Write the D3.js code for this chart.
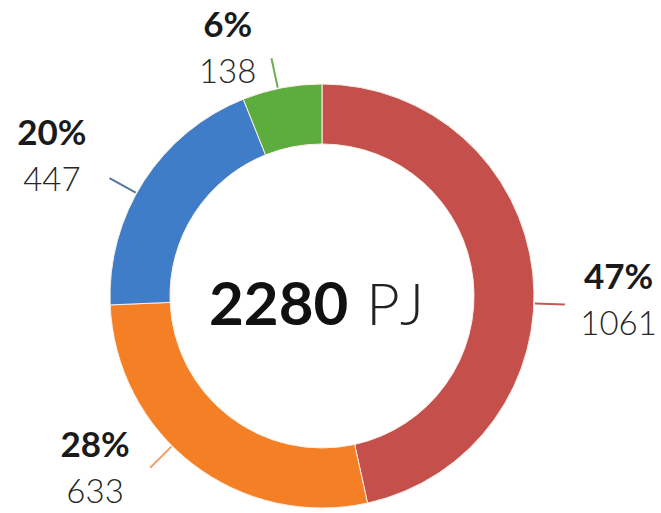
<!DOCTYPE html>
<html>
<head>
<meta charset="utf-8">
<script src="https://cdn.jsdelivr.net/npm/d3@7"></script>
<style>
  body { margin: 0; background: #fff; }
  svg { display: block; font-family: Lato, 'Noto Sans', sans-serif; }
</style>
</head>
<body>
<svg id="chart"></svg>
<script>
var WIDTH = 661;
var HEIGHT = 513;

// slice values (PJ), clockwise from 12 o'clock
var names = ['red', 'orange', 'blue', 'green'];
var values = [1061, 633, 447, 138];
var percents = ['47%', '28%', '20%', '6%'];
var total = 2280;
var unit = 'PJ';

var colors = ['#c44f4b', '#f57f24', '#3f7dc8', '#5cac3e'];
var tickColors = ['#c45a56', '#f0a06a', '#55779e', '#6aae4e'];

// label layout: angle (deg, clockwise from top) for leader tick and for text block
var tickAngle = [92, 225, 299, 348];
var labelAngle = [93.1, 231, 295.4, 338.2];
var labelRadius = [297, 292, 299, 254];

var cx = 322, cy = 296;
var outerR = 212, innerR = 152;

var svg = d3.select('#chart')
  .attr('width', WIDTH)
  .attr('height', HEIGHT);

var g = svg.append('g').attr('transform', 'translate(' + cx + ',' + cy + ')');

var pie = d3.pie().sort(null).value(function(d) { return d; });
var arc = d3.arc().innerRadius(innerR).outerRadius(outerR);

g.selectAll('path.slice')
  .data(pie(values))
  .enter()
  .append('path')
  .attr('class', 'slice')
  .attr('d', arc)
  .attr('fill', function(d, i) { return colors[i]; })
  .attr('stroke', '#fbeee6')
  .attr('stroke-width', 1);

var rad = function(deg) { return deg * Math.PI / 180; };

// leader ticks
g.selectAll('line.tick')
  .data(tickAngle)
  .enter()
  .append('line')
  .attr('x1', function(a) { return Math.sin(rad(a)) * (outerR + 1); })
  .attr('y1', function(a) { return -Math.cos(rad(a)) * (outerR + 1); })
  .attr('x2', function(a) { return Math.sin(rad(a)) * (outerR + 31); })
  .attr('y2', function(a) { return -Math.cos(rad(a)) * (outerR + 31); })
  .attr('stroke', function(a, i) { return tickColors[i]; })
  .attr('stroke-width', 2);

// labels
var labels = g.selectAll('g.label')
  .data(values)
  .enter()
  .append('g')
  .attr('transform', function(d, i) {
    var a = rad(labelAngle[i]);
    return 'translate(' + (Math.sin(a) * labelRadius[i]) + ',' + (-Math.cos(a) * labelRadius[i]) + ')';
  });

labels.append('text')
  .attr('text-anchor', 'middle')
  .attr('y', -23)
  .attr('font-size', 35)
  .attr('font-weight', 700)
  .attr('fill', '#1a1a1a')
  .text(function(d, i) { return percents[i]; });

labels.append('text')
  .attr('text-anchor', 'middle')
  .attr('y', 23)
  .attr('font-size', 33)
  .attr('font-weight', 300)
  .attr('fill', '#262626')
  .text(function(d) { return d; });

// center total
var center = g.append('text')
  .attr('text-anchor', 'middle')
  .attr('x', -3)
  .attr('y', 29)
  .attr('fill', '#111');

center.append('tspan')
  .attr('font-size', 60)
  .attr('font-weight', 700)
  .text(total);

center.append('tspan')
  .attr('font-size', 58)
  .attr('font-weight', 300)
  .attr('dx', 18)
  .attr('letter-spacing', 5)
  .attr('fill', '#222')
  .text(unit);
</script>
</body>
</html>
